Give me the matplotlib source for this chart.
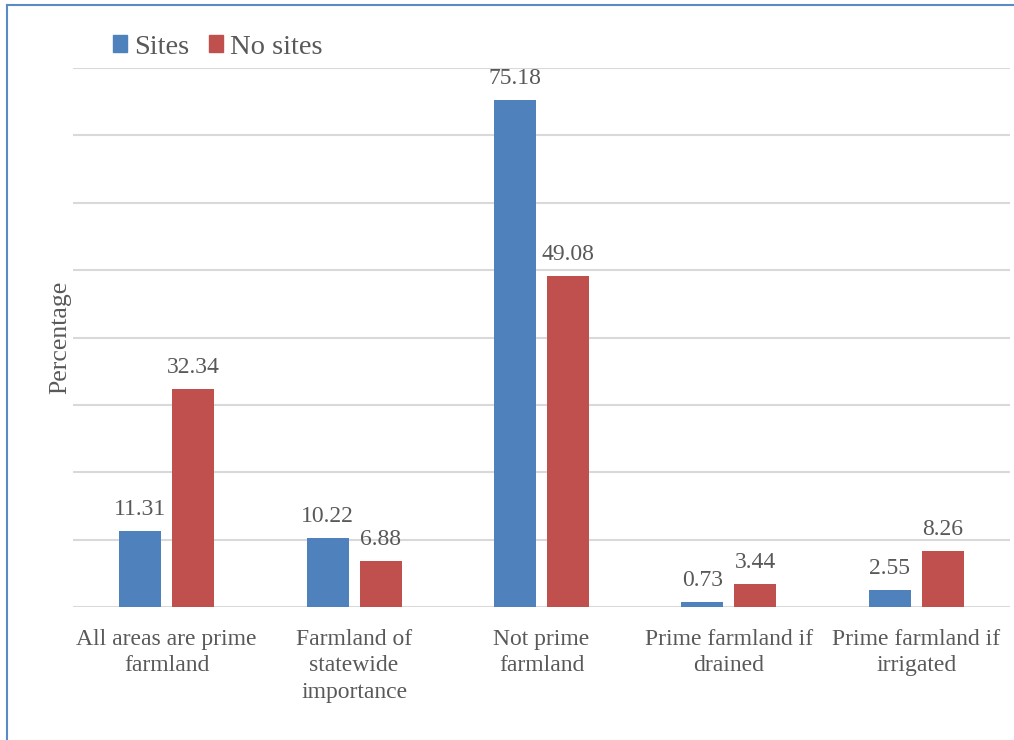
import matplotlib
matplotlib.use("Agg")
import matplotlib.pyplot as plt
from matplotlib.lines import Line2D
from matplotlib.patches import Patch
import numpy as np

categories = ["All areas are prime\nfarmland", "Farmland of\nstatewide\nimportance",
              "Not prime\nfarmland", "Prime farmland if\ndrained", "Prime farmland if\nirrigated"]
sites = [11.31, 10.22, 75.18, 0.73, 2.55]
no_sites = [32.34, 6.88, 49.08, 3.44, 8.26]
series_names = ["Sites", "No sites"]

BLUE = "#4F81BD"
RED = "#C0504D"
TXT = "#595959"
GRID = "#D9D9D9"

plt.rcParams['font.family'] = ['Liberation Serif', 'DejaVu Serif']

fig = plt.figure(figsize=(10.14, 7.40), dpi=100)
ax = fig.add_axes([73/1014, 1-607/740, (1010-73)/1014, (607-68)/740])

x = np.arange(len(categories))
w = 0.224
off = 0.141
b1 = ax.bar(x - off, sites, w, color=BLUE, zorder=3)
b2 = ax.bar(x + off, no_sites, w, color=RED, zorder=3)

for bars, vals in ((b1, sites), (b2, no_sites)):
    for r, v in zip(bars, vals):
        ax.annotate(f"{v:.2f}", (r.get_x() + r.get_width()/2, v),
                    xytext=(0, 8), textcoords="offset points",
                    ha="center", va="bottom", fontsize=17, color=TXT)

ax.set_xlim(-0.5, len(categories) - 0.5)
ax.set_ylim(0, 80)
ax.set_yticks(np.arange(0, 81, 10))
ax.yaxis.grid(True, color=GRID, linewidth=1.5, zorder=0)
ax.tick_params(axis="y", left=False, labelleft=False)
ax.tick_params(axis="x", bottom=False, pad=12)
ax.set_xticks(x)
ax.set_xticklabels(categories, fontsize=17, color=TXT, linespacing=1.36)
for s in ax.spines.values():
    s.set_visible(False)
ax.set_ylabel("Percentage", fontsize=18.5, color=TXT, labelpad=1)

handles = [Patch(color=BLUE), Patch(color=RED)]
fig.legend(handles, series_names, loc="center left", bbox_to_anchor=(87/1014, 1-47/740),
           ncol=2, frameon=False, fontsize=20.5, labelcolor=TXT,
           handlelength=0.5, handleheight=0.5, handletextpad=0.25, columnspacing=0.7)

fig.add_artist(Line2D([7/1014, 1.0], [1-5/740, 1-5/740], color="#5B8BC6", linewidth=1.5))
fig.add_artist(Line2D([7/1014, 7/1014], [0, 1-5/740], color="#5B8BC6", linewidth=1.5))

fig.savefig("out.png", dpi=100)
